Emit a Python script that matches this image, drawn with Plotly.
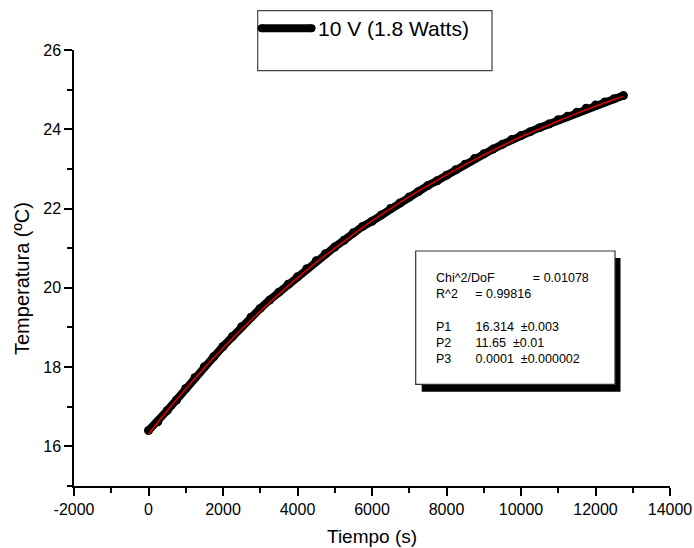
import plotly.graph_objects as go

# ---- data ----
time_s = [0, 250, 500, 750, 1000, 1250, 1500, 1750, 2000, 2250, 2500, 2750, 3000,
          3250, 3500, 3750, 4000, 4250, 4500, 4750, 5000, 5250, 5500, 5750, 6000,
          6250, 6500, 6750, 7000, 7250, 7500, 7750, 8000, 8250, 8500, 8750, 9000,
          9250, 9500, 9750, 10000, 10250, 10500, 10750, 11000, 11250, 11500, 11750,
          12000, 12250, 12500, 12750]
temp_c = [16.40, 16.62, 16.90, 17.17, 17.46, 17.74, 18.01, 18.26, 18.52, 18.77, 19.02,
          19.26, 19.48, 19.69, 19.89, 20.09, 20.28, 20.48, 20.68, 20.86, 21.03, 21.20,
          21.39, 21.55, 21.68, 21.84, 22.00, 22.14, 22.29, 22.43, 22.58, 22.70, 22.84,
          22.98, 23.12, 23.26, 23.38, 23.50, 23.62, 23.74, 23.84, 23.94, 24.04, 24.13,
          24.24, 24.33, 24.43, 24.53, 24.61, 24.69, 24.77, 24.85]

fit_time = [0, 500, 1000, 1500, 2000, 2500, 3000, 3500, 4000, 4500, 5000, 5500, 6000,
            6500, 7000, 7500, 8000, 8500, 9000, 9500, 10000, 10500, 11000, 11500,
            12000, 12500, 12750]
fit_temp = [16.31, 16.90, 17.45, 17.98, 18.48, 18.96, 19.41, 19.84, 20.25, 20.64,
            21.00, 21.35, 21.69, 22.00, 22.30, 22.58, 22.85, 23.11, 23.35, 23.59,
            23.81, 24.01, 24.21, 24.40, 24.58, 24.75, 24.83]

x_tick_vals = [-2000, 0, 2000, 4000, 6000, 8000, 10000, 12000, 14000]
x_tick_text = ["-2000", "0", "2000", "4000", "6000", "8000", "10000", "12000", "14000"]
y_tick_vals = [16, 18, 20, 22, 24, 26]
y_tick_text = ["16", "18", "20", "22", "24", "26"]

legend_label = "10 V (1.8 Watts)"
x_title = "Tiempo (s)"
y_title = "Temperatura (ºC)"

NB = "&nbsp;"
fit_lines = [
    "Chi^2/DoF" + NB * 11 + "= 0.01078",
    "R^2" + NB * 5 + "= 0.99816",
    NB,
    "P1" + NB * 7 + "16.314" + NB * 2 + "±0.003",
    "P2" + NB * 7 + "11.65" + NB * 2 + "±0.01",
    "P3" + NB * 7 + "0.0001" + NB * 2 + "±0.000002",
]

# ---- layout geometry (pixels) ----
W, H = 694, 548
L, R, T, B = 74, 24, 50, 62
PW, PH = W - L - R, H - T - B


def px(xp):
    return (xp - L) / PW


def py(yp):
    return (H - B - yp) / PH


FONT = "Arial, Liberation Sans, sans-serif"

fig = go.Figure()
fig.add_trace(go.Scatter(x=time_s, y=temp_c, mode="lines+markers",
                         line=dict(color="black", width=8),
                         marker=dict(color="black", size=9),
                         showlegend=False, hoverinfo="skip"))
fig.add_trace(go.Scatter(x=fit_time, y=fit_temp, mode="lines",
                         line=dict(color="#e00000", width=1.5, shape="spline"),
                         showlegend=False))

shapes = []
annotations = []

# legend box
shapes.append(dict(type="rect", xref="paper", yref="paper",
                   x0=px(257.7), x1=px(492), y0=py(70.7), y1=py(10.7),
                   line=dict(color="#444", width=1.2), fillcolor="white", layer="above"))
shapes.append(dict(type="line", xref="paper", yref="paper",
                   x0=px(261.7), x1=px(311.5), y0=py(28.3), y1=py(28.3),
                   line=dict(color="black", width=8), layer="above"))
for cx in (261.7, 311.5):
    shapes.append(dict(type="circle", xref="paper", yref="paper",
                       xsizemode="pixel", ysizemode="pixel",
                       xanchor=px(cx), yanchor=py(28.3),
                       x0=-4, x1=4, y0=-4, y1=4,
                       fillcolor="black", line=dict(width=0), layer="above"))
annotations.append(dict(xref="paper", yref="paper", x=px(315.5), y=py(28.3),
                        xanchor="left", yanchor="middle", showarrow=False,
                        text=legend_label, font=dict(family=FONT, size=21, color="black")))

# fit parameter box with shadow
shapes.append(dict(type="rect", xref="paper", yref="paper",
                   x0=px(421.7), x1=px(620.5), y0=py(391.7), y1=py(258),
                   line=dict(width=0), fillcolor="black", layer="above"))
shapes.append(dict(type="rect", xref="paper", yref="paper",
                   x0=px(415.7), x1=px(615), y0=py(384.3), y1=py(251),
                   line=dict(color="#333", width=1.2), fillcolor="white", layer="above"))
annotations.append(dict(xref="paper", yref="paper", x=px(434), y=py(268.5),
                        xanchor="left", yanchor="top", align="left", showarrow=False,
                        text="<br>".join(fit_lines),
                        font=dict(family=FONT, size=12.5, color="black")))

# axis titles
annotations.append(dict(xref="paper", yref="paper", x=px(372), y=py(536),
                        xanchor="center", yanchor="middle", showarrow=False,
                        text=x_title, font=dict(family=FONT, size=19, color="black")))
annotations.append(dict(xref="paper", yref="paper", x=px(22), y=py(279),
                        xanchor="center", yanchor="middle", showarrow=False, textangle=-90,
                        text=y_title, font=dict(family=FONT, size=20, color="black")))

axis_common = dict(showline=True, linecolor="black", linewidth=1.5, showgrid=False,
                   zeroline=False, ticks="outside", ticklen=8, tickwidth=1.5,
                   tickcolor="black", automargin=False,
                   tickfont=dict(family=FONT, size=16, color="black"))

fig.update_layout(
    width=W, height=H, margin=dict(l=L, r=R, t=T, b=B, autoexpand=False),
    paper_bgcolor="white", plot_bgcolor="white",
    xaxis=dict(range=[-2000, 14000], tickmode="array", tickvals=x_tick_vals,
               ticktext=x_tick_text,
               minor=dict(ticks="outside", ticklen=5, tickwidth=1.5, dtick=1000,
                          tick0=0, tickcolor="black", showgrid=False),
               **axis_common),
    yaxis=dict(range=[15, 26], tickmode="array", tickvals=y_tick_vals,
               ticktext=y_tick_text,
               minor=dict(ticks="outside", ticklen=5, tickwidth=1.5, dtick=1,
                          tick0=0, tickcolor="black", showgrid=False),
               **axis_common),
    shapes=shapes, annotations=annotations, showlegend=False,
)

fig.write_html("out.html")
